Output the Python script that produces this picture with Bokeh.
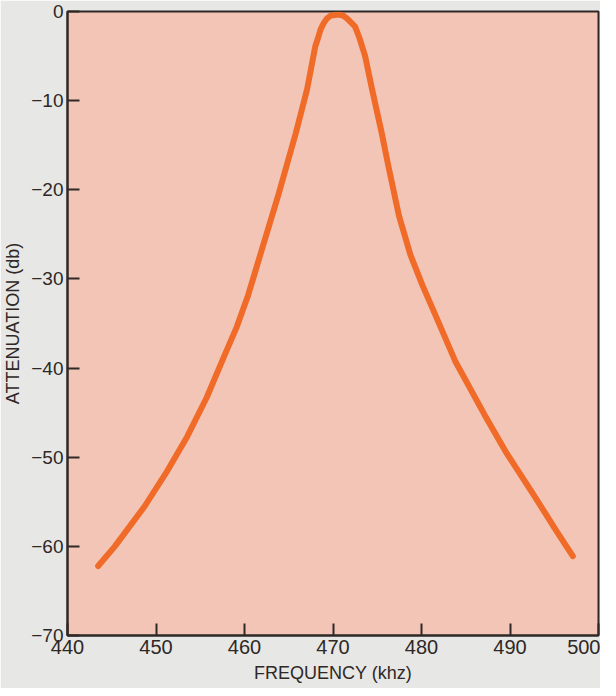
from bokeh.plotting import figure
from bokeh.models import Range1d, FixedTicker
from bokeh.embed import file_html
from bokeh.resources import INLINE

# Data
freq_khz = [443.46, 445.35, 448.72, 451.30, 453.52, 455.73, 457.95, 459.12, 460.42, 461.78,
            463.82, 465.81, 467.08, 468.0, 468.3, 468.6, 468.95, 469.3, 469.7, 470.2,
            470.7, 471.2, 471.6, 472.0, 472.5, 473.0, 473.63, 474.41, 475.5, 476.25,
            477.45, 478.75, 480.1, 481.55, 483.8, 487.1, 489.65, 492.6, 495.2, 497.1]
atten_db = [-62.2, -60.0, -55.5, -51.5, -47.7, -43.3, -38.1, -35.4, -31.8, -27.3,
            -20.6, -13.6, -8.7, -3.9, -3.0, -2.0, -1.3, -0.8, -0.5, -0.38,
            -0.35, -0.5, -0.8, -1.2, -1.7, -3.0, -5.0, -8.7, -13.6, -17.3,
            -22.9, -27.3, -30.7, -34.0, -39.2, -45.2, -49.6, -54.1, -58.2, -61.1]

x_ticks = [440, 450, 460, 470, 480, 490, 500]
x_tick_labels = ["440", "450", "460", "470", "480", "490", "500"]
y_ticks = [0, -10, -20, -30, -40, -50, -60, -70]
y_tick_labels = ["0", "\u221210", "\u221220", "\u221230", "\u221240", "\u221250", "\u221260", "\u221270"]

FONT = "Liberation Sans"
INK = "#2e2826"

p = figure(
    output_backend="svg", toolbar_location=None,
    width=600, height=688,
    min_border_left=62, min_border_right=2, min_border_top=11, min_border_bottom=53,
    x_range=Range1d(440, 500), y_range=Range1d(-70, 0),
    background_fill_color="#f2c5b7", border_fill_color="#e7e7e5",
)
p.outline_line_color = INK
p.outline_line_width = 2
p.grid.visible = False

p.line(freq_khz, atten_db, line_color="#f06a28", line_width=6,
       line_join="round", line_cap="round")

for ax in (p.xaxis[0], p.yaxis[0]):
    ax.axis_line_color = INK
    ax.axis_line_width = 2
    ax.major_tick_line_color = INK
    ax.major_tick_line_width = 2
    ax.major_tick_in = 12
    ax.major_tick_out = 0
    ax.minor_tick_line_color = None
    ax.major_label_text_font = FONT
    ax.major_label_text_color = INK
    ax.axis_label_text_font = FONT
    ax.axis_label_text_color = INK
    ax.axis_label_text_font_style = "normal"
    ax.axis_label_text_font_size = "18px"

p.xaxis[0].ticker = FixedTicker(ticks=x_ticks)
p.xaxis[0].major_label_overrides = dict(zip(x_ticks, x_tick_labels))
p.xaxis[0].major_label_text_font_size = "20px"
p.xaxis[0].major_label_standoff = 4
p.xaxis[0].axis_label = "FREQUENCY (khz)"
p.xaxis[0].axis_label_standoff = 6

p.yaxis[0].ticker = FixedTicker(ticks=y_ticks)
p.yaxis[0].major_label_overrides = dict(zip(y_ticks, y_tick_labels))
p.yaxis[0].major_label_text_font_size = "19px"
p.yaxis[0].major_label_standoff = 4
p.yaxis[0].axis_label = "ATTENUATION (db)"
p.yaxis[0].axis_label_standoff = 5

open("out.html", "w").write(file_html(p, INLINE))
